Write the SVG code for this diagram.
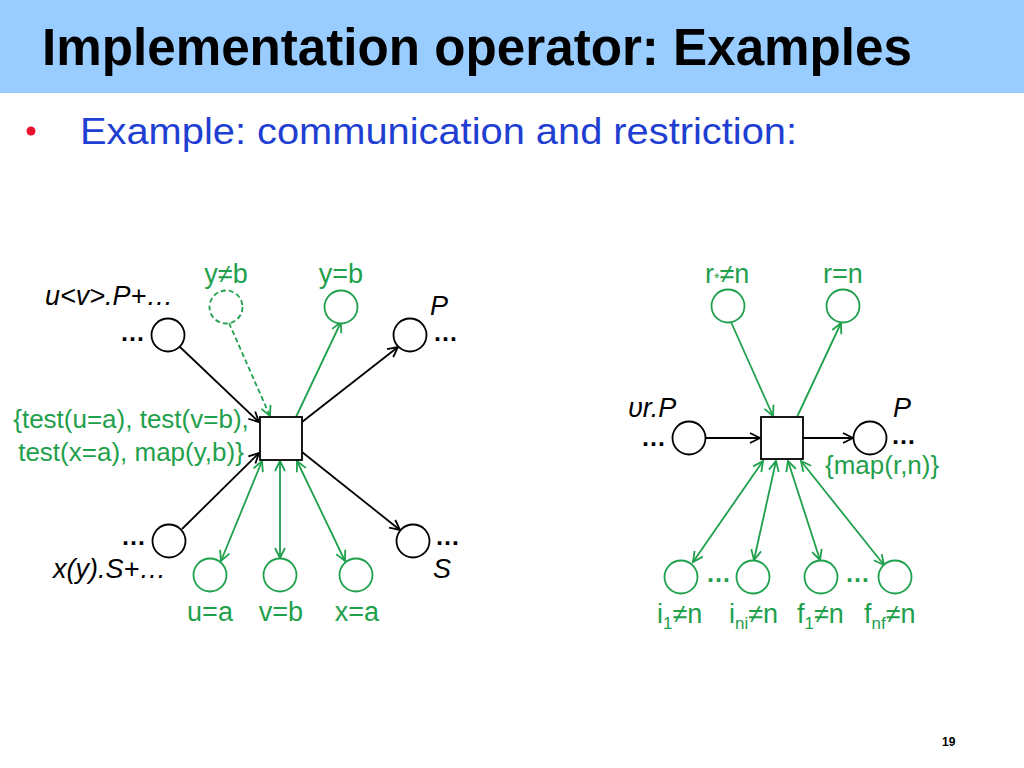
<svg xmlns="http://www.w3.org/2000/svg" width="1024" height="768" viewBox="0 0 1024 768">
<style>
text{font-family:"Liberation Sans",Arial,sans-serif}
.k{stroke:#000;stroke-width:1.8;fill:none}
.g{stroke:#1FA04C;stroke-width:1.8;fill:none}
.kc{stroke:#000;stroke-width:1.8;fill:#fff}
.gc{stroke:#1FA04C;stroke-width:1.8;fill:#fff}
.lb{font-size:27px;fill:#1FA04C}
.gl{font-size:26px;fill:#1FA04C}
.it{font-size:27px;font-style:italic;fill:#000}
.dk{font-size:25px;font-weight:bold;fill:#000}
.dg{font-size:25px;font-weight:bold;fill:#1FA04C}
.sb{font-size:17px}
</style>
<defs>
<marker id="ak" markerUnits="userSpaceOnUse" markerWidth="14" markerHeight="14" refX="11" refY="6" orient="auto-start-reverse" viewBox="0 0 14 12">
<path d="M1,1 L11,6 L1,11" fill="none" stroke="#000" stroke-width="1.8"/>
</marker>
<marker id="ag" markerUnits="userSpaceOnUse" markerWidth="14" markerHeight="14" refX="11" refY="6" orient="auto-start-reverse" viewBox="0 0 14 12">
<path d="M1,1 L11,6 L1,11" fill="none" stroke="#1FA04C" stroke-width="1.8"/>
</marker>
</defs>
<rect x="0" y="0" width="1024" height="93" fill="#99CCFF"/>
<text x="42" y="65" font-size="51" font-weight="bold" fill="#000" textLength="870" lengthAdjust="spacingAndGlyphs">Implementation operator: Examples</text>
<circle cx="31" cy="131" r="4.5" fill="#E8102E"/>
<text x="80" y="144" font-size="37" fill="#1F3FD2" textLength="717" lengthAdjust="spacingAndGlyphs">Example: communication and restriction:</text>
<text x="942" y="746" font-size="12" font-weight="bold" fill="#000">19</text>

<g id="connectors">
<line class="k" x1="180" y1="347" x2="259" y2="422" marker-end="url(#ak)"/>
<line class="g" x1="229" y1="323" x2="270" y2="416" stroke-dasharray="5,3" marker-end="url(#ag)"/>
<line class="g" x1="296" y1="417" x2="341" y2="322" marker-end="url(#ag)"/>
<line class="k" x1="302" y1="422" x2="398" y2="347" marker-end="url(#ak)"/>
<line class="k" x1="182" y1="529" x2="259" y2="453" marker-end="url(#ak)"/>
<line class="k" x1="302" y1="452" x2="400" y2="530" marker-end="url(#ak)"/>
<line class="g" x1="262" y1="461" x2="221" y2="561" marker-start="url(#ag)" marker-end="url(#ag)"/>
<line class="g" x1="280" y1="461" x2="280" y2="558" marker-start="url(#ag)" marker-end="url(#ag)"/>
<line class="g" x1="297" y1="461" x2="345" y2="561" marker-start="url(#ag)" marker-end="url(#ag)"/>

<line class="g" x1="731" y1="322" x2="773" y2="416" marker-end="url(#ag)"/>
<line class="g" x1="797" y1="417" x2="841" y2="323" marker-end="url(#ag)"/>
<line class="k" x1="706" y1="438" x2="760" y2="438" marker-end="url(#ak)"/>
<line class="k" x1="803" y1="438" x2="853" y2="438" marker-end="url(#ak)"/>
<line class="g" x1="763" y1="461" x2="693" y2="562" marker-start="url(#ag)" marker-end="url(#ag)"/>
<line class="g" x1="776" y1="461" x2="754" y2="560" marker-start="url(#ag)" marker-end="url(#ag)"/>
<line class="g" x1="788" y1="461" x2="820" y2="560" marker-start="url(#ag)" marker-end="url(#ag)"/>
<line class="g" x1="801" y1="461" x2="884" y2="565" marker-start="url(#ag)" marker-end="url(#ag)"/>
</g>

<g id="left-transition">
<rect x="260" y="417" width="42" height="43" class="kc"/>
<text class="gl" x="131" y="428" text-anchor="middle">{test(u=a), test(v=b),</text>
<text class="gl" x="131" y="461" text-anchor="middle">test(x=a), map(y,b)}</text>
</g>
<g id="left-in-top">
<circle cx="168" cy="335" r="16.5" class="kc"/>
<text class="it" x="45" y="305">u&lt;v&gt;.P+…</text>
<text class="dk" x="120" y="341">…</text>
</g>
<g id="left-yneb">
<circle cx="226" cy="307" r="16.5" class="gc" stroke-dasharray="5,3"/>
<text class="lb" x="226" y="283" text-anchor="middle">y≠b</text>
</g>
<g id="left-yeqb">
<circle cx="341" cy="307" r="16.5" class="gc"/>
<text class="lb" x="341" y="283" text-anchor="middle">y=b</text>
</g>
<g id="left-P">
<circle cx="410" cy="335" r="16.5" class="kc"/>
<text class="it" x="430" y="315">P</text>
<text class="dk" x="433" y="341">…</text>
</g>
<g id="left-in-bottom">
<circle cx="169" cy="541" r="16.5" class="kc"/>
<text class="dk" x="121" y="545">…</text>
<text class="it" x="53" y="578">x(y).S+…</text>
</g>
<g id="left-S">
<circle cx="413" cy="541" r="16.5" class="kc"/>
<text class="dk" x="435" y="545">…</text>
<text class="it" x="433" y="578">S</text>
</g>
<g id="left-ua">
<circle cx="210" cy="575" r="16.5" class="gc"/>
<text class="lb" x="210" y="621" text-anchor="middle">u=a</text>
</g>
<g id="left-vb">
<circle cx="280" cy="575" r="16.5" class="gc"/>
<text class="lb" x="281" y="621" text-anchor="middle">v=b</text>
</g>
<g id="left-xa">
<circle cx="356" cy="575" r="16.5" class="gc"/>
<text class="lb" x="357" y="621" text-anchor="middle">x=a</text>
</g>

<g id="right-transition">
<rect x="761" y="417" width="42" height="42" class="kc"/>
<text class="gl" x="825" y="474" font-size="25">{map(r,n)}</text>
</g>
<g id="right-rstar">
<circle cx="728" cy="306" r="16.5" class="gc"/>
<text class="lb" x="705" y="283">r<tspan font-size="14">*</tspan>≠n</text>
</g>
<g id="right-rn">
<circle cx="843" cy="306" r="16.5" class="gc"/>
<text class="lb" x="843" y="283" text-anchor="middle">r=n</text>
</g>
<g id="right-in">
<circle cx="689" cy="438" r="16.5" class="kc"/>
<text class="it" x="628" y="417">υr.P</text>
<text class="dk" x="641" y="446">…</text>
</g>
<g id="right-P">
<circle cx="870" cy="438" r="16.5" class="kc"/>
<text class="it" x="893" y="417">P</text>
<text class="dk" x="891" y="444">…</text>
</g>
<g id="right-i1">
<circle cx="681" cy="577" r="16.5" class="gc"/>
<text class="lb" x="657" y="623">i<tspan class="sb" dy="6">1</tspan><tspan dy="-6">≠n</tspan></text>
</g>
<text class="dg" x="706" y="582">…</text>
<g id="right-ini">
<circle cx="753" cy="577" r="16.5" class="gc"/>
<text class="lb" x="729" y="623">i<tspan class="sb" dy="6">ni</tspan><tspan dy="-6">≠n</tspan></text>
</g>
<g id="right-f1">
<circle cx="821" cy="577" r="16.5" class="gc"/>
<text class="lb" x="797" y="623">f<tspan class="sb" dy="6">1</tspan><tspan dy="-6">≠n</tspan></text>
</g>
<text class="dg" x="845" y="582">…</text>
<g id="right-fnf">
<circle cx="895" cy="577" r="16.5" class="gc"/>
<text class="lb" x="864" y="623">f<tspan class="sb" dy="6">nf</tspan><tspan dy="-6">≠n</tspan></text>
</g>
</svg>
